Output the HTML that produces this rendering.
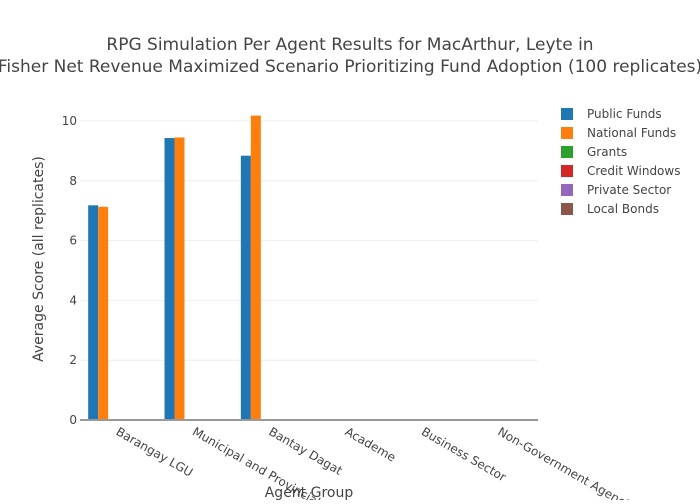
<!DOCTYPE html>
<html><head><meta charset="utf-8"><style>
body{margin:0;background:#fff;font-family:"DejaVu Sans",sans-serif}
</style></head><body>
<svg id="c" width="700" height="500" xmlns="http://www.w3.org/2000/svg" style="font-family:'DejaVu Sans',sans-serif">
<text x="350" y="50" text-anchor="middle" font-size="17" fill="#444">RPG Simulation Per Agent Results for MacArthur, Leyte in</text>
<text x="350" y="72" text-anchor="middle" font-size="17" fill="#444">Fisher Net Revenue Maximized Scenario Prioritizing Fund Adoption (100 replicates)</text>
<g id="grid"></g><g id="bars"></g><g id="axes"></g><g id="legend"></g>
<text x="309" y="497" text-anchor="middle" font-size="14" fill="#444">Agent Group</text>
<text transform="translate(43,259) rotate(-90)" text-anchor="middle" font-size="14" fill="#444">Average Score (all replicates)</text>
</svg>
<script>
const categories=["Barangay LGU","Municipal and Provincial LGU","Bantay Dagat","Academe","Business Sector","Non-Government Agencies"];
const seriesNames=["Public Funds","National Funds","Grants","Credit Windows","Private Sector","Local Bonds"];
const colors=["#1f77b4","#ff7f0e","#2ca02c","#d62728","#9467bd","#8c564b"];
const publicFunds=[7.18,9.43,8.84,0,0,0];
const nationalFunds=[7.13,9.45,10.18,0,0,0];
const grants=[0,0,0,0,0,0];
const creditWindows=[0,0,0,0,0,0];
const privateSector=[0,0,0,0,0,0];
const localBonds=[0,0,0,0,0,0];
const yTicks=[0,2,4,6,8,10];
const series=[publicFunds,nationalFunds,grants,creditWindows,privateSector,localBonds];
const NS="http://www.w3.org/2000/svg";
const L=80,R=538,Y0=420,Y10=121;
const y=v=>Y0-(Y0-Y10)*v/10;
const cw=(R-L)/categories.length;
const bw=10;
function mk(t,a,p){const e=document.createElementNS(NS,t);for(const k in a)e.setAttribute(k,a[k]);document.getElementById(p).appendChild(e);return e;}
yTicks.forEach(t=>{
 if(t>0){const g=mk('line',{x1:L,x2:R,y1:y(t),y2:y(t),stroke:'#eee'},'grid');
 
 }
 const tx=mk('text',{x:L-3,y:y(t)+4,'text-anchor':'end','font-size':12,fill:'#444'},'axes');
 tx.textContent=t;
 
 
});
categories.forEach((c,i)=>{
 const x0=L+i*cw+(cw-bw*6)/2;
 series.forEach((s,j)=>{
  if(s[i]<=0)return;
  const r=mk('rect',{x:x0+j*bw,y:y(s[i]),width:bw,height:Y0-y(s[i]),fill:colors[j]},'bars');
  
  
 });
 const cx=L+i*cw+cw/2;
 const t=mk('text',{transform:`translate(${cx-3},${Y0+14}) rotate(30)`,'font-size':12,fill:'#444'},'axes');
 t.textContent=c;
 
 
});
const ax=mk('line',{x1:L,x2:R,y1:Y0,y2:Y0,stroke:'#999','stroke-width':2},'axes');


seriesNames.forEach((n,j)=>{
 const yy=114+j*19;
 const r=mk('rect',{x:561,y:yy-6,width:12,height:12,fill:colors[j]},'legend');
 
 
 const t=mk('text',{x:587,y:yy+4,'font-size':12,fill:'#444'},'legend');
 t.textContent=n;
 
 
});
</script>
</body></html>
